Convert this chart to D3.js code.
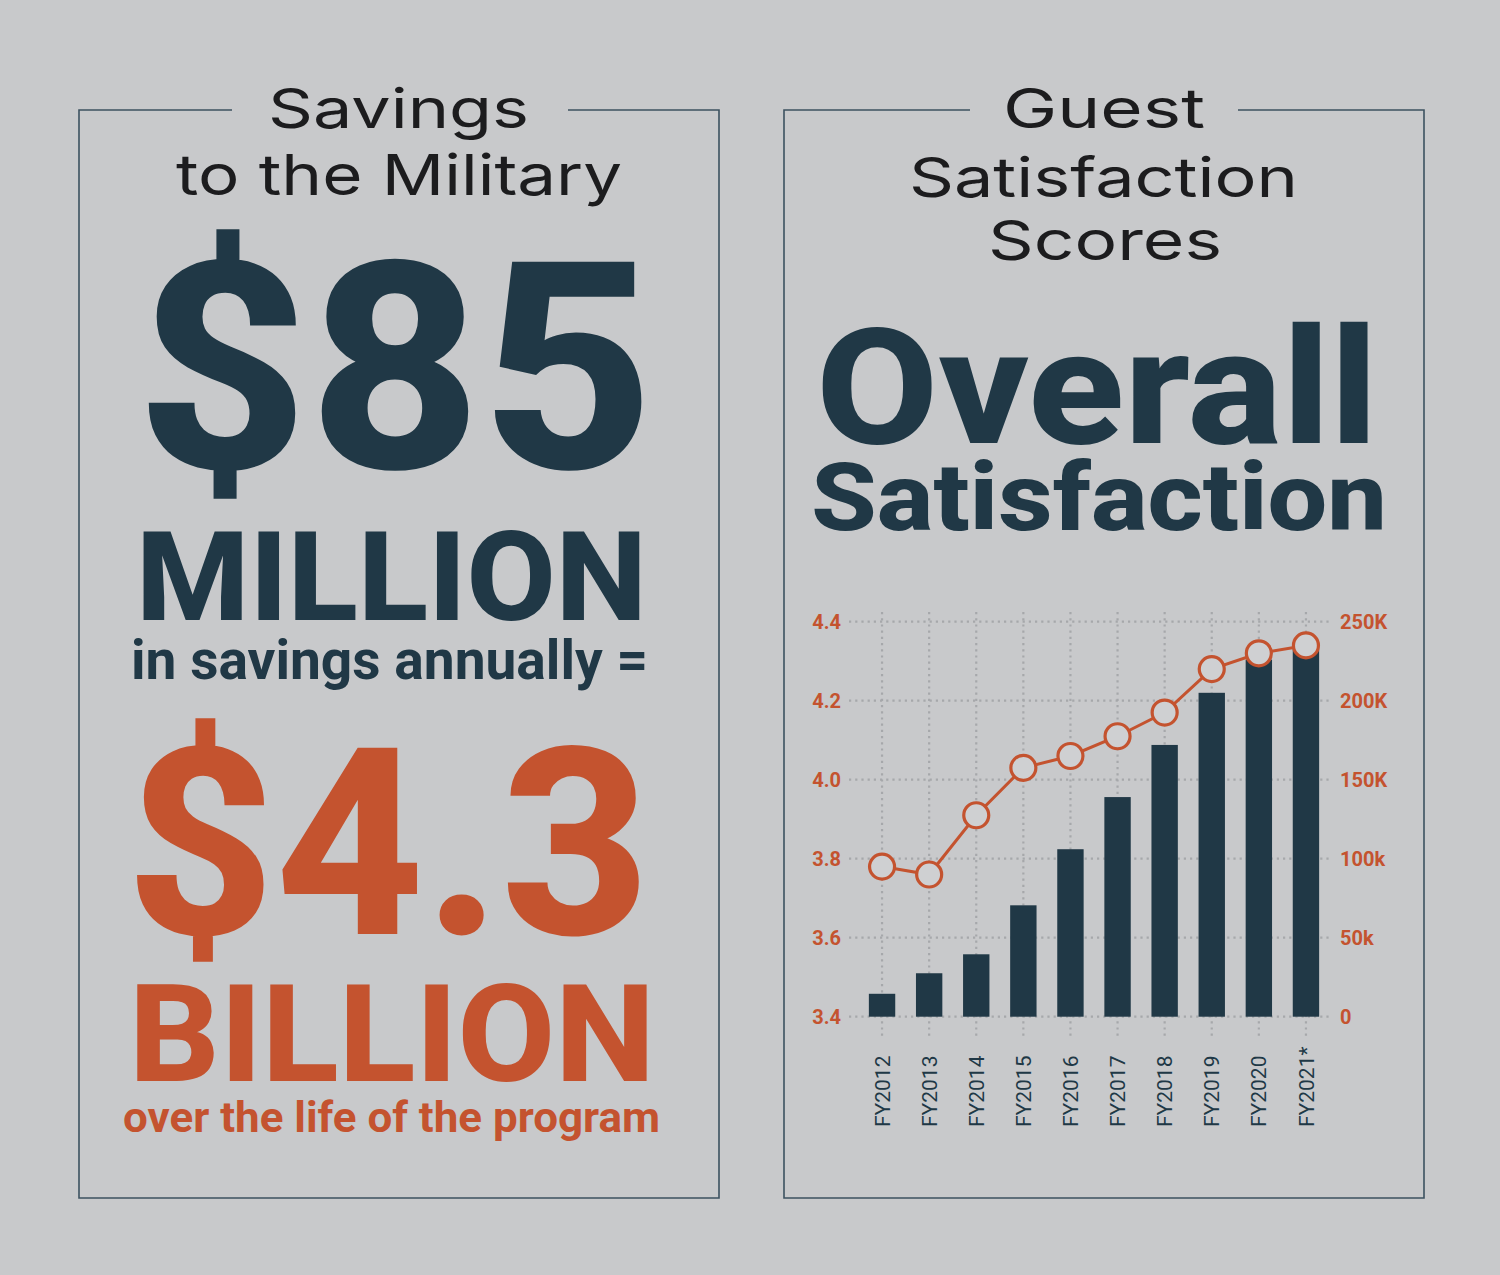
<!DOCTYPE html>
<html>
<head>
<meta charset="utf-8">
<script src="https://cdn.jsdelivr.net/npm/d3@7"></script>
<style>
  body { margin: 0; background: #c8c9cb; }
  svg { display: block; }
</style>
</head>
<body>
<div id="chart"></div>
<script>
// data
const years = ["FY2012", "FY2013", "FY2014", "FY2015", "FY2016", "FY2017", "FY2018", "FY2019", "FY2020", "FY2021*"];
const scores = [3.78, 3.76, 3.91, 4.03, 4.06, 4.11, 4.17, 4.28, 4.32, 4.34];
const guests = [14500, 27500, 39500, 70500, 106000, 139000, 172000, 205000, 226000, 233000];
const scoreTicks = [3.4, 3.6, 3.8, 4.0, 4.2, 4.4];
const guestTicks = [0, 50000, 100000, 150000, 200000, 250000];
const guestTickLabels = ["0", "50k", "100k", "150K", "200K", "250K"];

const navy = "#203846";
const orange = "#c4532f";
const ink = "#1c1c1e";
const bg = "#c8c9cb";
const titleFont = "Inter, 'DejaVu Sans', sans-serif";
const boldFont = "Roboto, 'Liberation Sans', sans-serif";

const svg = d3.select("#chart").append("svg")
    .attr("width", 1500)
    .attr("height", 1275);

svg.append("rect").attr("width", 1500).attr("height", 1275).attr("fill", bg);

// panel frames, open at the top for the titles
const frames = [
    [[232, 110], [79, 110], [79, 1198], [719, 1198], [719, 110], [568, 110]],
    [[970, 110], [784, 110], [784, 1198], [1424, 1198], [1424, 110], [1238, 110]]
];
svg.selectAll("path.frame")
    .data(frames)
    .join("path")
    .attr("class", "frame")
    .attr("d", d3.line())
    .attr("fill", "none")
    .attr("stroke", "#3c5260")
    .attr("stroke-width", 1.6);

// text stretched to the span it covers in the picture
function label(txt, x0, x1, y, size, weight, color, family) {
    return svg.append("text")
        .attr("x", (x0 + x1) / 2)
        .attr("y", y)
        .attr("text-anchor", "middle")
        .attr("font-family", family)
        .attr("font-size", size)
        .attr("font-weight", weight)
        .attr("fill", color)
        .attr("textLength", x1 - x0)
        .attr("lengthAdjust", "spacingAndGlyphs")
        .text(txt);
}

// left panel
label("Savings", 268, 529, 128, 55, 400, ink, titleFont);
label("to the Military", 176, 622, 195, 56, 400, ink, titleFont);
label("$85", 136, 654, 468, 290, 800, navy, boldFont);
label("MILLION", 136, 647, 620, 124, 800, navy, boldFont);
label("in savings annually =", 131, 648, 679, 56, 700, navy, boldFont);
label("$4.3", 126, 650, 934, 262, 800, orange, boldFont);
label("BILLION", 129, 655, 1081, 136, 800, orange, boldFont);
label("over the life of the program", 123, 660, 1132, 42, 700, orange, boldFont);

// right panel
label("Guest", 1003, 1205, 128, 55, 400, ink, titleFont);
label("Satisfaction", 909, 1298, 197, 55, 400, ink, titleFont);
label("Scores", 988, 1222, 260, 55, 400, ink, titleFont);
label("Overall", 816, 1378, 443, 162, 800, navy, boldFont);
label("Satisfaction", 811, 1387, 530, 95, 800, navy, boldFont);

// chart
const x = d3.scaleBand()
    .domain(years)
    .range([858.5, 1329.5])
    .paddingInner(0.44)
    .paddingOuter(0.22);

const yScore = d3.scaleLinear().domain([3.4, 4.4]).range([1016.7, 621.7]);
const yGuest = d3.scaleLinear().domain([0, 250000]).range([1016.7, 621.7]);

const plotLeft = 849, plotRight = 1332;
const grid = svg.append("g")
    .attr("stroke", "#a6a8ab")
    .attr("stroke-width", 2.2)
    .attr("stroke-dasharray", "2.2 4")
    .attr("fill", "none");

grid.selectAll("line.h")
    .data(scoreTicks)
    .join("line")
    .attr("class", "h")
    .attr("x1", plotLeft).attr("x2", plotRight)
    .attr("y1", d => yScore(d)).attr("y2", d => yScore(d));

grid.selectAll("line.v")
    .data(years)
    .join("line")
    .attr("class", "v")
    .attr("x1", d => x(d) + x.bandwidth() / 2)
    .attr("x2", d => x(d) + x.bandwidth() / 2)
    .attr("y1", 612).attr("y2", 1036);

// axes (labels only)
const leftAxis = svg.append("g")
    .attr("transform", `translate(${plotLeft},0)`)
    .call(d3.axisLeft(yScore).tickValues(scoreTicks).tickFormat(d3.format(".1f")).tickSize(0).tickPadding(8));

const rightAxis = svg.append("g")
    .attr("transform", `translate(${plotRight},0)`)
    .call(d3.axisRight(yGuest).tickValues(guestTicks).tickFormat((d, i) => guestTickLabels[i]).tickSize(0).tickPadding(8));

[leftAxis, rightAxis].forEach(a => {
    a.select(".domain").remove();
    a.selectAll("text")
        .attr("fill", orange)
        .attr("font-family", boldFont)
        .attr("font-weight", 700)
        .attr("font-size", 20);
});

const bottomAxis = svg.append("g")
    .attr("transform", "translate(0,1127)")
    .call(d3.axisBottom(x).tickSize(0).tickPadding(0));
bottomAxis.select(".domain").remove();
bottomAxis.selectAll("text")
    .attr("transform", "rotate(-90)")
    .attr("text-anchor", "start")
    .attr("x", 0)
    .attr("y", 0)
    .attr("dy", "0.36em")
    .attr("fill", navy)
    .attr("font-family", boldFont)
    .attr("font-weight", 400)
    .attr("font-size", 21);

// bars
svg.selectAll("rect.bar")
    .data(years)
    .join("rect")
    .attr("class", "bar")
    .attr("x", d => x(d))
    .attr("width", x.bandwidth())
    .attr("y", (d, i) => yGuest(guests[i]))
    .attr("height", (d, i) => yGuest(0) - yGuest(guests[i]))
    .attr("fill", navy);

// score line with hollow markers
const pts = years.map((d, i) => [x(d) + x.bandwidth() / 2, yScore(scores[i])]);

svg.append("path")
    .datum(pts)
    .attr("d", d3.line())
    .attr("fill", "none")
    .attr("stroke", orange)
    .attr("stroke-width", 3);

svg.selectAll("circle.pt")
    .data(pts)
    .join("circle")
    .attr("class", "pt")
    .attr("cx", d => d[0])
    .attr("cy", d => d[1])
    .attr("r", 12.5)
    .attr("fill", "#cfd0d2")
    .attr("stroke", orange)
    .attr("stroke-width", 3.2);
</script>
</body>
</html>
